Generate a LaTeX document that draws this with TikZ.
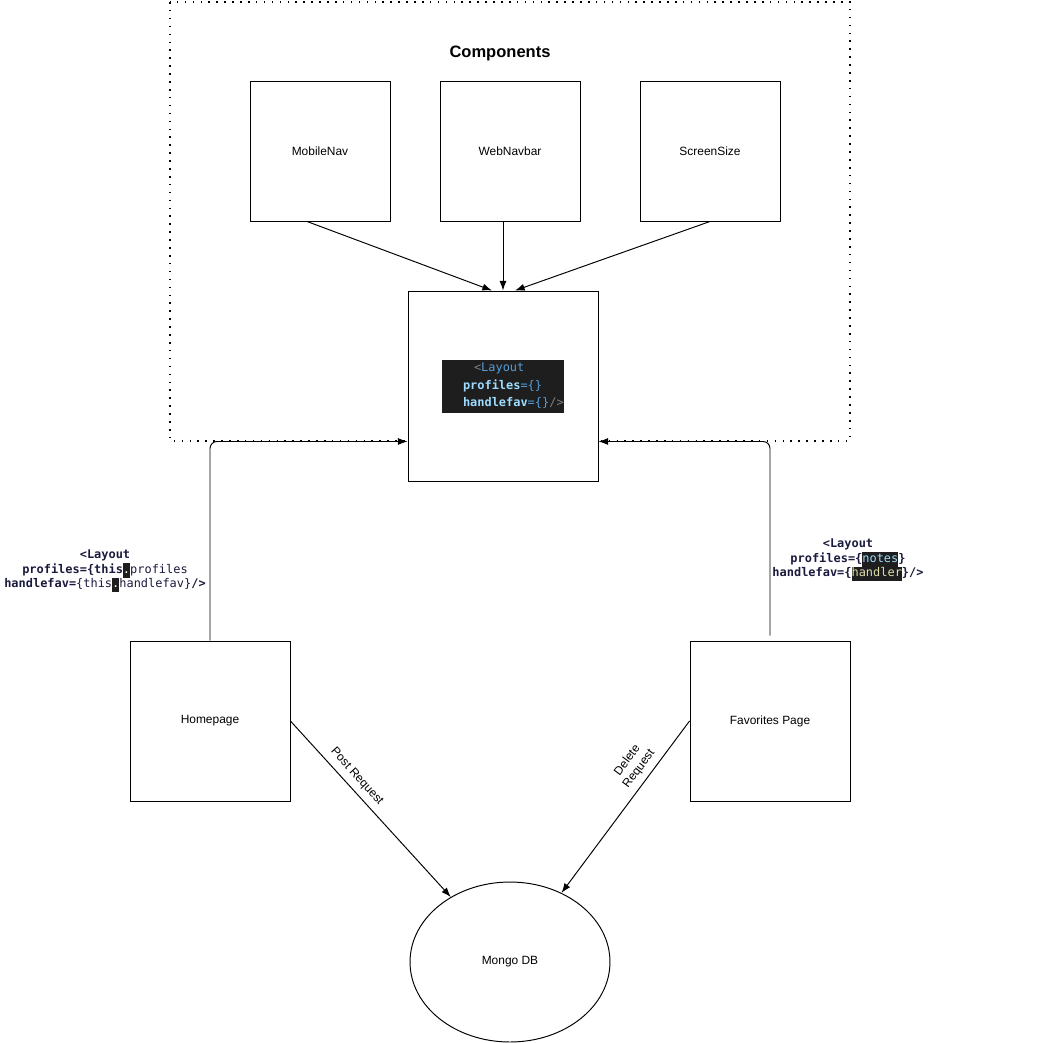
\documentclass[tikz,border=0pt]{standalone}
\usepackage{fontspec}
\setmainfont{Liberation Sans}
\newfontfamily\codefont{DejaVu Sans Mono}
\usepackage{xcolor}
\usepackage{tikz}
\usetikzlibrary{calc}
\usetikzlibrary{shapes.geometric}
\usetikzlibrary{arrows.meta}
\definecolor{codebg}{HTML}{1E1E1E}
\definecolor{tagblue}{HTML}{569CD6}
\definecolor{attrblue}{HTML}{9CDCFE}
\definecolor{fnyellow}{HTML}{DCDCAA}
\definecolor{tagclose}{HTML}{808080}
\definecolor{labelnavy}{HTML}{1A1A3E}
\newcommand{\codehl}[2]{{\setlength{\fboxsep}{0pt}\colorbox{codebg}{\strut\textcolor{#1}{#2}}}}

\begin{document}
\begin{tikzpicture}[x=0.02cm,y=-0.02cm,line width=0.55pt,
    frame/.style={line width=0.9pt,dash pattern=on 0.9pt off 3.6pt},
    box/.style={draw,fill=white,font=\fontsize{6.8}{8.2}\selectfont},
    conn/.style={-{Latex[length=5.5pt,width=4pt]}},
    codelabel/.style={align=center,text=labelnavy,font=\codefont\fontsize{6.8}{8.4}\selectfont},
    edgelbl/.style={font=\fontsize{6.8}{8.2}\selectfont}]
        \useasboundingbox (0,0) rectangle (1061,1042);
        \draw[frame] (170,2) rectangle (850,441);
        \node[font=\bfseries\fontsize{9.4}{11}\selectfont] (comptitle) at (500,53) {Components};
        \node[box,minimum size=2.8cm] (mnav) at (320,151) {MobileNav};
        \node[box,minimum size=2.8cm] (wnav) at (510,151) {WebNavbar};
        \node[box,minimum size=2.8cm] (ssize) at (710,151) {ScreenSize};
        \node[box,minimum size=3.8cm] (layout) at (503,386) {};
        \node[fill=codebg,text width=2.44cm,minimum height=1.06cm,inner sep=0pt,align=left,
            font=\codefont\fontsize{6.8}{9.9}\selectfont] (code) at (layout.center)
            {\hspace*{0.64cm}\textcolor{tagclose}{<}\textcolor{tagblue}{Layout}\\
             \hspace*{0.42cm}\textcolor{attrblue}{\textbf{profiles}}\textcolor{tagblue}{=\{\}}\\
             \hspace*{0.42cm}\textcolor{attrblue}{\textbf{handlefav}}\textcolor{tagblue}{=\{\}}\textcolor{tagclose}{/>}};
        \node[box,minimum size=3.2cm] (home) at (210,721) {Homepage};
        \node[box,minimum size=3.2cm] (fav) at (770,721) {Favorites Page};
        \node[box,ellipse,minimum width=4cm,minimum height=3.2cm] (mongo) at (510,962) {Mongo DB};
        \draw[conn] ([xshift=-0.26cm]mnav.south) -- ([xshift=-0.22cm]layout.north);
        \draw[conn] (wnav.south -| layout.north) -- (layout.north);
        \draw[conn] (ssize.south) -- ([xshift=0.24cm]layout.north);
        \draw[conn,rounded corners=4pt] (home.north) |- ([yshift=0.8cm]layout.south west);
        \draw[conn,rounded corners=4pt] ([yshift=0.1cm]fav.north) |- ([yshift=0.8cm]layout.south east);
        \node[codelabel] (homelbl) at (105,571)
            {\textbf{<Layout}\\
             \textbf{profiles=\{this}\codehl{white}{.}profiles\\
             \textbf{handlefav=}\{this\codehl{white}{.}handlefav\}\textbf{/>}};
        \node[codelabel] (favlbl) at (848,560)
            {\textbf{<Layout}\\
             \textbf{profiles=\{}\codehl{attrblue}{notes}\textbf{\}}\\
             \textbf{handlefav=\{}\codehl{fnyellow}{handler}\textbf{\}/>}};
        \draw[conn] (home.east) -- node[pos=0.36,sloped,above,edgelbl]{Post Request} (mongo);
        \draw[conn] (fav.west) -- node[pos=0.32,sloped,above,align=center,edgelbl]{Delete\\Request} (mongo);
    \end{tikzpicture}
\end{document}
